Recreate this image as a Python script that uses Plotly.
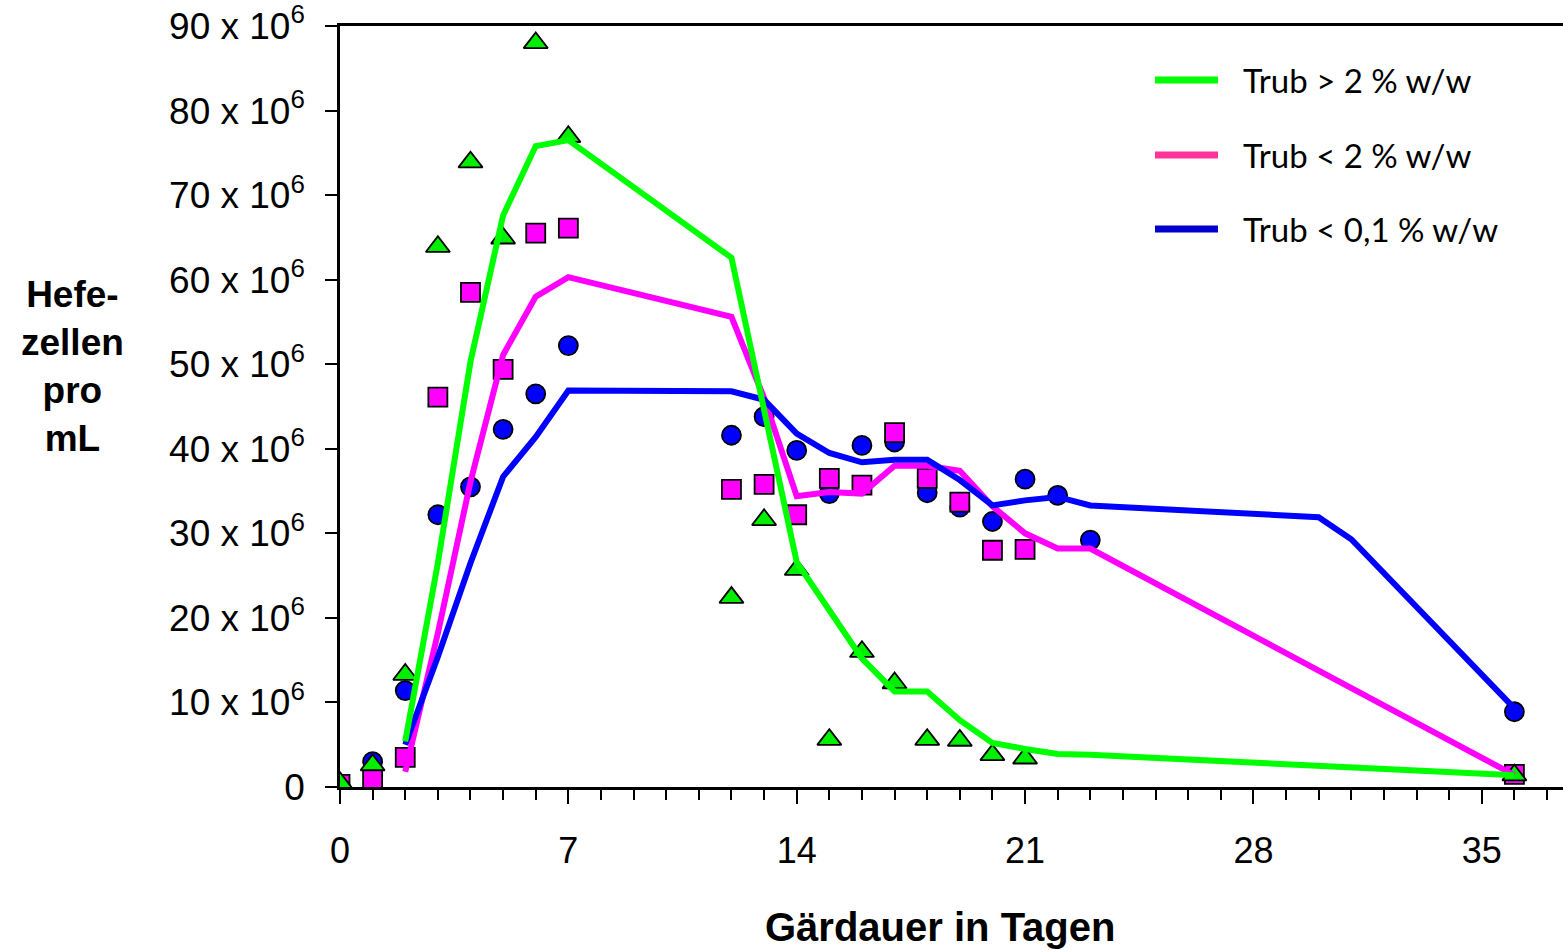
import plotly.graph_objects as go

# ---- data (values in cells/mL, in units of 1e6) ----
tri_days = [0, 1, 2, 3, 4, 5, 6, 7, 12, 13, 14, 15, 16, 17, 18, 19, 20, 21, 36]
tri_vals = [0.5, 2.6, 13.3, 63.9, 73.9, 64.9, 88.0, 76.9, 22.4, 31.6, 25.7, 5.6, 16.0, 12.3, 5.6, 5.5, 3.8, 3.4, 1.4]

sq_days = [0, 1, 2, 3, 4, 5, 6, 7, 12, 13, 14, 15, 16, 17, 18, 19, 20, 21, 36]
sq_vals = [0.3, 1.0, 3.5, 46.1, 58.5, 49.4, 65.5, 66.1, 35.2, 35.8, 32.2, 36.5, 35.7, 41.9, 36.5, 33.7, 28.0, 28.1, 1.5]

circ_days = [0, 1, 2, 3, 4, 5, 6, 7, 12, 13, 14, 15, 16, 17, 18, 19, 20, 21, 22, 23, 36]
circ_vals = [0.3, 3.0, 11.4, 32.2, 35.5, 42.3, 46.5, 52.2, 41.6, 43.8, 39.8, 34.7, 40.4, 40.8, 34.8, 33.1, 31.4, 36.4, 34.5, 29.2, 8.9]

green_line_days = [2, 3, 4, 5, 6, 7, 12, 13, 14, 15, 16, 17, 18, 19, 20, 21, 22, 23, 36]
green_line_vals = [5.4, 26.5, 50.3, 67.6, 75.8, 76.5, 62.6, 45.0, 26.6, 20.9, 15.2, 11.3, 11.3, 7.9, 5.2, 4.5, 3.9, 3.8, 1.4]

pink_line_days = [2, 3, 4, 5, 6, 7, 12, 13, 14, 15, 16, 17, 18, 19, 20, 21, 22, 23, 36]
pink_line_vals = [1.8, 18.2, 36.1, 51.1, 58.0, 60.3, 55.6, 46.0, 34.4, 34.9, 34.7, 38.0, 38.0, 37.4, 33.2, 30.0, 28.2, 28.2, 1.4]

blue_line_days = [2, 3, 4, 5, 6, 7, 12, 13, 14, 15, 16, 17, 18, 19, 20, 21, 22, 23, 30, 31, 36]
blue_line_vals = [5.0, 15.4, 26.5, 36.7, 41.4, 46.9, 46.8, 45.8, 41.8, 39.5, 38.4, 38.7, 38.7, 36.3, 33.3, 33.9, 34.3, 33.3, 31.9, 29.3, 9.3]

legend_labels = ["Trub > 2 % w/w", "Trub < 2 % w/w", "Trub < 0,1 % w/w"]
legend_colors = ["#00FF00", "#FF3399", "#0000CC"]

y_tick_vals = [0, 10, 20, 30, 40, 50, 60, 70, 80, 90]
y_tick_text = ["0"] + [f"{v} x 10<sup>6</sup>" for v in y_tick_vals[1:]]
x_tick_vals = [0, 7, 14, 21, 28, 35]

M = 1e6
GREEN, PINK, BLUE = "#00FF00", "#FF00FF", "#0000FF"

fig = go.Figure()

mk_line = dict(color="black", width=1.8)
fig.add_trace(go.Scatter(x=circ_days, y=[v * M for v in circ_vals], mode="markers",
                         marker=dict(symbol="circle", size=19, color=BLUE, line=mk_line), showlegend=False))
fig.add_trace(go.Scatter(x=sq_days, y=[v * M for v in sq_vals], mode="markers",
                         marker=dict(symbol="square", size=19, color=PINK, line=mk_line), showlegend=False))
fig.add_trace(go.Scatter(x=tri_days, y=[v * M for v in tri_vals], mode="markers",
                         marker=dict(symbol="triangle-up", size=21, color="#00EE00", line=mk_line), showlegend=False))

fig.add_trace(go.Scatter(x=pink_line_days, y=[v * M for v in pink_line_vals], mode="lines",
                         line=dict(color=PINK, width=6), showlegend=False))
fig.add_trace(go.Scatter(x=blue_line_days, y=[v * M for v in blue_line_vals], mode="lines",
                         line=dict(color=BLUE, width=6), showlegend=False))
fig.add_trace(go.Scatter(x=green_line_days, y=[v * M for v in green_line_vals], mode="lines",
                         line=dict(color=GREEN, width=6), showlegend=False))

# custom legend
leg_y = [0.929, 0.8305, 0.7332]
for lab, col, yy in zip(legend_labels, legend_colors, leg_y):
    fig.add_shape(type="line", xref="paper", yref="paper", x0=0.6664, x1=0.7179, y0=yy, y1=yy,
                  line=dict(color=col, width=7))
    fig.add_annotation(xref="paper", yref="paper", x=0.737, y=yy, text=lab, showarrow=False,
                       xanchor="left", yanchor="middle",
                       font=dict(family="Lato", size=33, color="black"))

# axis titles
fig.add_annotation(xref="paper", yref="paper", x=(940 - 340) / 1223, y=(787 - 927) / 761,
                   text="<b>Gärdauer in Tagen</b>", showarrow=False, xanchor="center", yanchor="middle",
                   font=dict(family="Liberation Sans", size=40, color="black"))
fig.add_annotation(xref="paper", yref="paper", x=(72 - 340) / 1223, y=(787 - 366) / 761,
                   text="<b>Hefe-<br>zellen<br>pro<br>mL</b>", showarrow=False, xanchor="center",
                   yanchor="middle", align="center",
                   font=dict(family="Liberation Sans", size=37, color="black"))

fig.update_layout(
    width=1563, height=950,
    margin=dict(l=340, r=0, t=26, b=163),
    paper_bgcolor="white", plot_bgcolor="white",
    font=dict(family="Liberation Sans", color="black"),
    xaxis=dict(range=[0, 37.49], tickvals=x_tick_vals, ticktext=[str(v) for v in x_tick_vals],
               ticks="outside", ticklen=14, tickwidth=2, tickcolor="black",
               minor=dict(dtick=1, tick0=0, ticks="outside", ticklen=10, tickwidth=2, tickcolor="black"),
               showline=True, linewidth=2.5, linecolor="black", mirror=True,
               showgrid=False, zeroline=False, ticklabelstandoff=16,
               tickfont=dict(family="Liberation Sans", size=36, color="black")),
    yaxis=dict(range=[0, 90e6], tickvals=[v * M for v in y_tick_vals], ticktext=y_tick_text,
               ticks="outside", ticklen=12, tickwidth=2, tickcolor="black",
               showline=True, linewidth=2.5, linecolor="black",
               showgrid=False, zeroline=False, ticklabelstandoff=13,
               tickfont=dict(family="Liberation Sans", size=37, color="black")),
)

fig.write_html("out.html")
